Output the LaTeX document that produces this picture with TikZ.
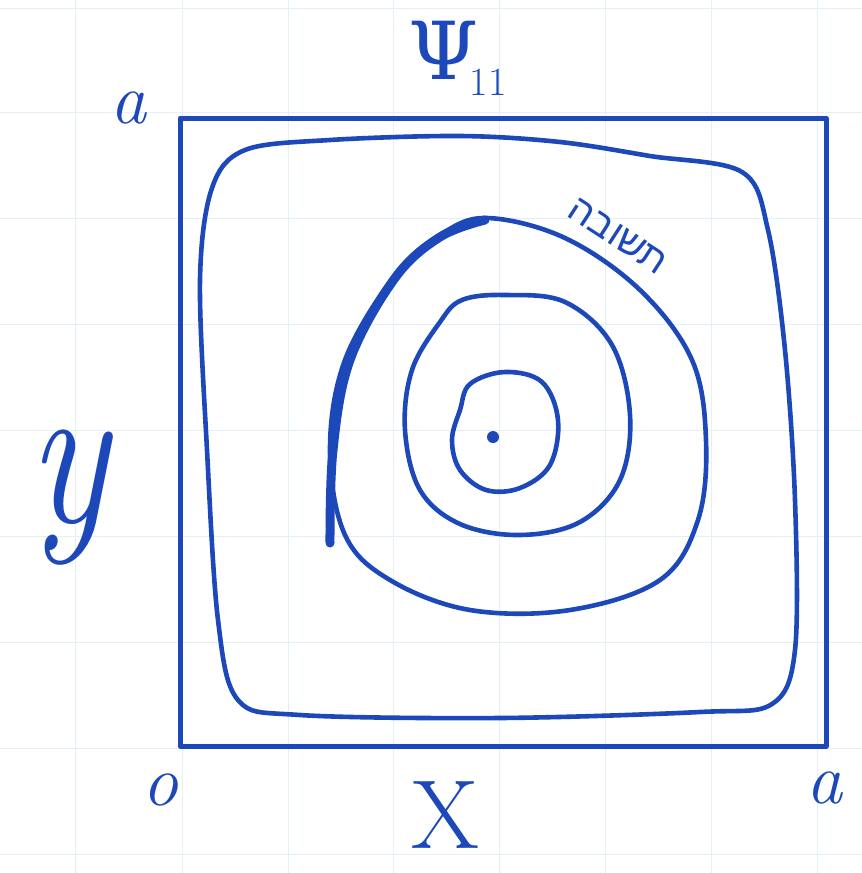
\documentclass[tikz,border=0pt]{standalone}
\usepackage{fontspec}
\newfontfamily\hebfont[Script=Hebrew]{Liberation Sans}
\newfontfamily\grkfont{DejaVu Serif}
\TeXXeTstate=1
\definecolor{ink}{RGB}{28,72,185}
\definecolor{gridc}{RGB}{228,240,248}
\begin{document}
\begin{tikzpicture}[x=1pt,y=-1pt,
  pen/.style={draw=ink,line width=4.6pt,line cap=round,line join=round},
  lbl/.style={text=ink,inner sep=0pt}]
\useasboundingbox (0,0) rectangle (862,873);
\fill[white] (0,0) rectangle (862,873);
% faint graph paper grid
\foreach \gx in {75,182,288,393,499,605,711,817}
  \draw[gridc,line width=1pt] (\gx,0) -- (\gx,873);
\foreach \gy in {8,112,218,324,430,536,642,748,854}
  \draw[gridc,line width=1pt] (0,\gy) -- (862,\gy);
% frame
\draw[pen,line width=5pt] (180,118) rectangle (826,746);
% outer rounded contour
\draw[pen] plot[smooth cycle,tension=0.55] coordinates {
  (245,150) (330,140) (460,136) (560,142) (650,156) (742,172)
  (768,230) (785,350) (795,500) (795,650) (772,704)
  (700,712) (500,718) (300,715) (238,700)
  (218,620) (207,450) (200,280) (212,188)};
% second contour (egg shaped)
\draw[pen] plot[smooth cycle,tension=0.6] coordinates {
  (487,218) (565,238) (640,290) (692,360) (706,440) (698,520)
  (660,580) (570,610) (470,610) (390,580) (345,535)
  (330,450) (345,360) (395,275) (440,235)};
% thick stroke on the left part
\draw[pen,line width=9pt] plot[smooth,tension=0.6] coordinates {
  (485,220) (440,237) (395,278) (350,360) (333,450) (330,543)};
% third contour
\draw[pen] plot[smooth cycle,tension=0.6] coordinates {
  (462,300) (505,295) (565,302) (612,345) (630,415) (620,480)
  (580,522) (520,535) (460,524) (420,490) (405,430) (412,370) (440,322)};
% fourth contour
\draw[pen] plot[smooth cycle,tension=0.6] coordinates {
  (470,384) (505,372) (542,382) (558,420) (550,465) (520,488)
  (486,490) (460,470) (452,440) (460,410)};
% centre dot
\fill[ink] (493,437) circle (6);
% labels
\node[lbl,font=\fontsize{80}{80}\grkfont] (psi) at (444,50) {Ψ};
\node[lbl,font=\fontsize{40}{40}\selectfont] (psisub) at (488,82) {11};
\node[lbl,font=\fontsize{72}{72}\selectfont\itshape] (atl) at (128,108) {a};
\node[lbl,font=\fontsize{72}{72}\selectfont\itshape] (abr) at (824,788) {a};
\node[lbl,font=\fontsize{72}{72}\selectfont\itshape] (orig) at (160,790) {o};
\node[lbl,font=\fontsize{98}{98}\selectfont] (xl) at (445,815) {X};
\node[lbl,font=\fontsize{210}{210}\selectfont\itshape,xscale=0.8] (yl) at (68,498) {y};
\node[lbl,font=\fontsize{38}{38}\selectfont\hebfont,rotate=-33] (ans) at (618,236) {\beginR תשובה\endR};
\end{tikzpicture}
\end{document}
